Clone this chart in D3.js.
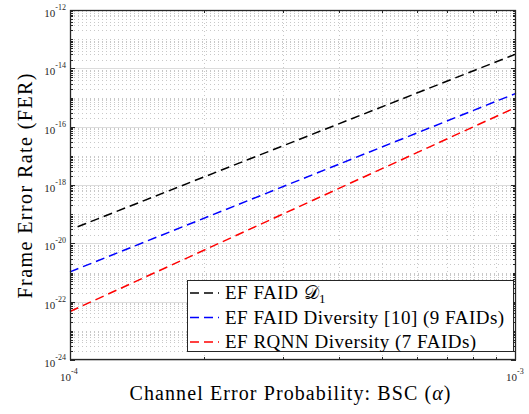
<!DOCTYPE html>
<html>
<head>
<meta charset="utf-8">
<script src="https://cdnjs.cloudflare.com/ajax/libs/d3/7.8.5/d3.min.js"></script>
<style>
body { margin: 0; background: #fff; }
</style>
</head>
<body>
<div id="chart"></div>
<script>
// data (FER vs alpha, straight lines on log-log)
var alpha_black = [1.04e-4, 1e-3];
var fer_black = [3.7e-20, 3.1e-14];
var alpha_blue = [1e-4, 1e-3];
var fer_blue = [1.05e-21, 1.39e-15];
var alpha_red = [1e-4, 1e-3];
var fer_red = [4.6e-23, 4.6e-16];

var seriesNames = ["EF FAID ", "EF FAID Diversity [10] (9 FAIDs)", "EF RQNN Diversity (7 FAIDs)"];
var seriesColors = ["#000000", "#0000ff", "#ff0000"];
var yTickExp = [-24, -22, -20, -18, -16, -14, -12];
var xTickExp = [-4, -3];

var FONT = "'Liberation Serif'";
var W = 529, H = 414;
var m = {left: 70, right: 13, top: 10, bottom: 54};

var svg = d3.select("#chart").append("svg")
	.attr("width", W).attr("height", H)
	.style("font-family", FONT);

var x = d3.scaleLog().domain([1e-4, 1e-3]).range([m.left, W - m.right]);
var y = d3.scaleLog().domain([1e-24, 1e-12]).range([H - m.bottom, m.top]);

var x0 = m.left, x1 = W - m.right, y0 = H - m.bottom, y1 = m.top;

// minor grid (dotted)
var xMinor = [];
for (var k = 2; k <= 9; k++) xMinor.push(k * 1e-4);
var yMinor = [], yMajor = [];
for (var e = -24; e < -12; e++) {
	for (var k = 1; k <= 9; k++) {
		if (k == 1 && e % 2 == 0) continue;
		yMinor.push(k * Math.pow(10, e));
	}
}
yTickExp.forEach(function(e){ yMajor.push(Math.pow(10, e)); });

var grid = svg.append("g");
grid.selectAll("line.xmin").data(xMinor).enter().append("line")
	.attr("x1", function(d){ return Math.round(x(d)) + 0.5; })
	.attr("x2", function(d){ return Math.round(x(d)) + 0.5; })
	.attr("y1", y0).attr("y2", y1)
	.style("stroke", "#c8c8c8").style("stroke-width", 1)
	.style("stroke-dasharray", "1,3");
grid.selectAll("line.ymin").data(yMinor).enter().append("line")
	.attr("x1", x0).attr("x2", x1)
	.attr("y1", function(d){ return Math.round(y(d)) + 0.5; })
	.attr("y2", function(d){ return Math.round(y(d)) + 0.5; })
	.style("stroke", "#c8c8c8").style("stroke-width", 1)
	.style("stroke-dasharray", "1,3");
grid.selectAll("line.ymaj").data(yMajor).enter().append("line")
	.attr("x1", x0).attr("x2", x1)
	.attr("y1", function(d){ return Math.round(y(d)) + 0.5; })
	.attr("y2", function(d){ return Math.round(y(d)) + 0.5; })
	.style("stroke", "#dcdcdc").style("stroke-width", 1);

// ticks (inside, on all four sides)
var ticks = svg.append("g").style("stroke", "#262626").style("stroke-width", 1);
yMinor.forEach(function(d){
	var yy = Math.round(y(d)) + 0.5;
	ticks.append("line").attr("x1", x0).attr("x2", x0 + 3).attr("y1", yy).attr("y2", yy);
	ticks.append("line").attr("x1", x1).attr("x2", x1 - 3).attr("y1", yy).attr("y2", yy);
});
yMajor.forEach(function(d){
	var yy = Math.round(y(d)) + 0.5;
	ticks.append("line").attr("x1", x0).attr("x2", x0 + 5).attr("y1", yy).attr("y2", yy);
	ticks.append("line").attr("x1", x1).attr("x2", x1 - 5).attr("y1", yy).attr("y2", yy);
});
xMinor.forEach(function(d){
	var xx = Math.round(x(d)) + 0.5;
	ticks.append("line").attr("x1", xx).attr("x2", xx).attr("y1", y0).attr("y2", y0 - 3);
	ticks.append("line").attr("x1", xx).attr("x2", xx).attr("y1", y1).attr("y2", y1 + 3);
});

// lines
var line = d3.line()
	.x(function(d){ return x(d[0]); })
	.y(function(d){ return y(d[1]); });

var series = [
	d3.zip(alpha_black, fer_black),
	d3.zip(alpha_blue, fer_blue),
	d3.zip(alpha_red, fer_red)
];

svg.append("g").selectAll("path").data(series).enter().append("path")
	.attr("d", line)
	.style("fill", "none")
	.style("stroke", function(d, i){ return seriesColors[i]; })
	.style("stroke-width", 1.5)
	.style("stroke-dasharray", "9,5");

// box
svg.append("rect")
	.attr("x", x0 + 0.5).attr("y", y1 + 0.5)
	.attr("width", x1 - x0 - 1).attr("height", y0 - y1 - 1)
	.style("fill", "none").style("stroke", "#262626").style("stroke-width", 1.3);

// y tick labels
yTickExp.forEach(function(e){
	var t = svg.append("text")
		.attr("x", x0 - 4).attr("y", y(Math.pow(10, e)) + 7)
		.attr("text-anchor", "end")
		.style("font-family", FONT)
		.style("font-size", "11px").style("fill", "#262626");
	t.append("tspan").text("10");
	t.append("tspan").attr("dy", -7).style("font-size", "8px").text(e);
});

// x tick labels
xTickExp.forEach(function(e){
	var t = svg.append("text")
		.attr("x", x(Math.pow(10, e)) - 10).attr("y", y0 + 21)
		.style("font-family", FONT)
		.style("font-size", "11px").style("fill", "#262626");
	t.append("tspan").text("10");
	t.append("tspan").attr("dy", -7).style("font-size", "8px").text(e);
});

// axis titles
var xt = svg.append("text")
	.attr("x", 290).attr("y", 400)
	.attr("text-anchor", "middle")
	.attr("textLength", 321).attr("lengthAdjust", "spacing")
	.style("font-family", FONT)
	.style("font-size", "20px");
xt.append("tspan").text("Channel Error Probability: BSC (");
xt.append("tspan").style("font-style", "italic").text("α");
xt.append("tspan").text(")");

svg.append("text")
	.attr("transform", "translate(31.5,186) rotate(-90)")
	.attr("text-anchor", "middle")
	.attr("textLength", 225).attr("lengthAdjust", "spacing")
	.style("font-family", FONT)
	.style("font-size", "20px")
	.text("Frame Error Rate (FER)");

// legend
var lg = svg.append("g");
lg.append("rect")
	.attr("x", 187.5).attr("y", 280.5).attr("width", 326).attr("height", 71)
	.style("fill", "#fff").style("stroke", "#262626").style("stroke-width", 1);

seriesNames.forEach(function(name, i){
	var yy = 293 + i * 24.5;
	lg.append("line")
		.attr("x1", 190).attr("x2", 219).attr("y1", yy).attr("y2", yy)
		.style("stroke", seriesColors[i]).style("stroke-width", 1.5)
		.style("stroke-dasharray", "9,5");
	var t = lg.append("text")
		.attr("x", 225).attr("y", yy + 6)
		.style("font-family", FONT)
		.style("font-size", "19px")
		.style("letter-spacing", "0.5px");
	t.append("tspan").text(name);
	if (i == 0) {
		t.append("tspan").text("𝒟");
		t.append("tspan").attr("dy", 4).style("font-size", "13px").text("1");
	}
});
</script>
</body>
</html>
